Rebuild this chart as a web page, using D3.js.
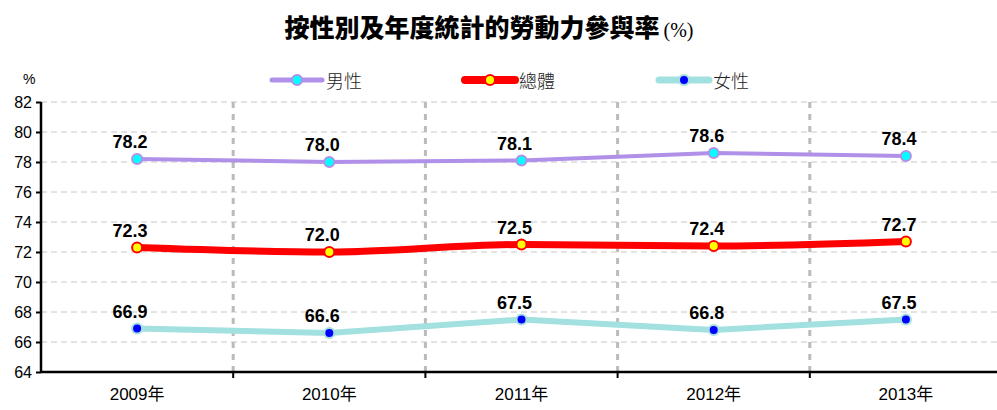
<!DOCTYPE html>
<html><head><meta charset="utf-8">
<script src="https://cdn.jsdelivr.net/npm/d3@7"></script>
<style>body{margin:0;background:#fff}svg{display:block}</style>
</head><body>
<svg id="c" width="997" height="410"></svg>
<script>
const years = ["2009年","2010年","2011年","2012年","2013年"];
const male = [78.2, 78.0, 78.1, 78.6, 78.4];
const total = [72.3, 72.0, 72.5, 72.4, 72.7];
const female = [66.9, 66.6, 67.5, 66.8, 67.5];
const yTicks = [64,66,68,70,72,74,76,78,80,82];
const seriesNames = ["男性","總體","女性"];

(function(){
const svg = d3.select("#c");
const pL = 41, pR = 1002, pT = 102, pB = 372;
const x = d3.scaleBand().domain(years).range([pL, pR]);
const y = d3.scaleLinear().domain([64, 82]).range([pB, pT]);
const font = "'Liberation Sans', Arial, 'Noto Sans CJK TC', sans-serif";

// horizontal grid
svg.append("g").selectAll("line").data(yTicks.slice(1)).join("line")
  .attr("x1", pL).attr("x2", 997).attr("y1", d => y(d)).attr("y2", d => y(d))
  .attr("stroke", "#c8c8c8").attr("stroke-width", 1).attr("stroke-dasharray", "6,4");
// vertical grid
svg.append("g").selectAll("line").data(years.slice(1)).join("line")
  .attr("x1", d => x(d)).attr("x2", d => x(d)).attr("y1", pT).attr("y2", pB)
  .attr("stroke", "#bbbbbb").attr("stroke-width", 3).attr("stroke-dasharray", "6,6");

// y axis
const ya = svg.append("g").attr("transform", `translate(${pL},0)`)
  .call(d3.axisLeft(y).tickValues(yTicks).tickSize(5).tickPadding(4));
ya.select(".domain").attr("stroke", "#000").attr("stroke-width", 2.5).attr("d", `M0,${pT}V${pB}`);
ya.selectAll(".tick line").attr("stroke", "#000").attr("stroke-width", 2);
ya.selectAll("text").attr("font-family", font).attr("font-size", 16).attr("fill", "#000");

// x axis
const xa = svg.append("g").attr("transform", `translate(0,${pB})`)
  .call(d3.axisBottom(x).tickSize(0).tickPadding(16));
xa.select(".domain").attr("stroke", "#000").attr("stroke-width", 2.5).attr("d", `M${pL},0H997`);
xa.selectAll("text").attr("font-family", font).attr("font-size", 17).attr("fill", "#000");
svg.append("g").selectAll("line").data(years.slice(1)).join("line")
  .attr("x1", d => x(d)).attr("x2", d => x(d)).attr("y1", pB).attr("y2", pB + 6)
  .attr("stroke", "#000").attr("stroke-width", 2);

svg.append("text").attr("x", 23).attr("y", 84).attr("font-family", font).attr("font-size", 14).text("%");

const series = [
  {name: seriesNames[0], vals: male, line: "#b090e8", w: 4, fill: "#00ffff", curve: d3.curveLinear},
  {name: seriesNames[1], vals: total, line: "#ff0000", w: 7, fill: "#ffff00", curve: d3.curveMonotoneX},
  {name: seriesNames[2], vals: female, line: "#a3e0e0", w: 6, fill: "#0000ff", curve: d3.curveLinear}
];
const cx = d => x(d) + x.bandwidth() / 2;

series.forEach(s => {
  const pts = years.map((yr, i) => [cx(yr), y(s.vals[i])]);
  svg.append("path").attr("d", d3.line().curve(s.curve)(pts))
    .attr("fill", "none").attr("stroke", s.line).attr("stroke-width", s.w).attr("stroke-linejoin", "round");
  svg.append("g").selectAll("circle").data(pts).join("circle")
    .attr("cx", d => d[0]).attr("cy", d => d[1]).attr("r", 5)
    .attr("fill", s.fill).attr("stroke", s.line).attr("stroke-width", 2);
  svg.append("g").selectAll("text").data(s.vals).join("text")
    .attr("x", (d, i) => cx(years[i]) - 7).attr("y", d => y(d) - 11)
    .attr("text-anchor", "middle").attr("font-family", font).attr("font-weight", "bold")
    .attr("font-size", 18).attr("fill", "#000").text(d => d.toFixed(1));
});

// legend
const legX = [272, 465, 659];
series.forEach((s, i) => {
  const g = svg.append("g").attr("transform", `translate(${legX[i]},80)`);
  g.append("line").attr("x1", 0).attr("x2", 50).attr("y1", 0).attr("y2", 0)
    .attr("stroke", s.line).attr("stroke-width", s.w + 1).attr("stroke-linecap", "round");
  g.append("circle").attr("cx", 25).attr("cy", 0).attr("r", 5)
    .attr("fill", s.fill).attr("stroke", s.line).attr("stroke-width", 2);
  g.append("text").attr("x", 54).attr("y", 8).attr("font-family", "'Noto Sans CJK TC', sans-serif")
    .attr("font-size", 18).attr("font-weight", 300).attr("fill", "#222").text(s.name);
});

// title
const t = svg.append("text").attr("x", 489).attr("y", 37).attr("text-anchor", "middle");
t.append("tspan").attr("font-family", "'Noto Sans CJK TC', sans-serif").attr("font-weight", 900)
  .attr("font-size", 25).text("按性別及年度統計的勞動力參與率");
t.append("tspan").attr("font-family", "'Liberation Serif', serif").attr("font-size", 20).attr("dx", 4).text("(%)");
})();
</script>
</body></html>
